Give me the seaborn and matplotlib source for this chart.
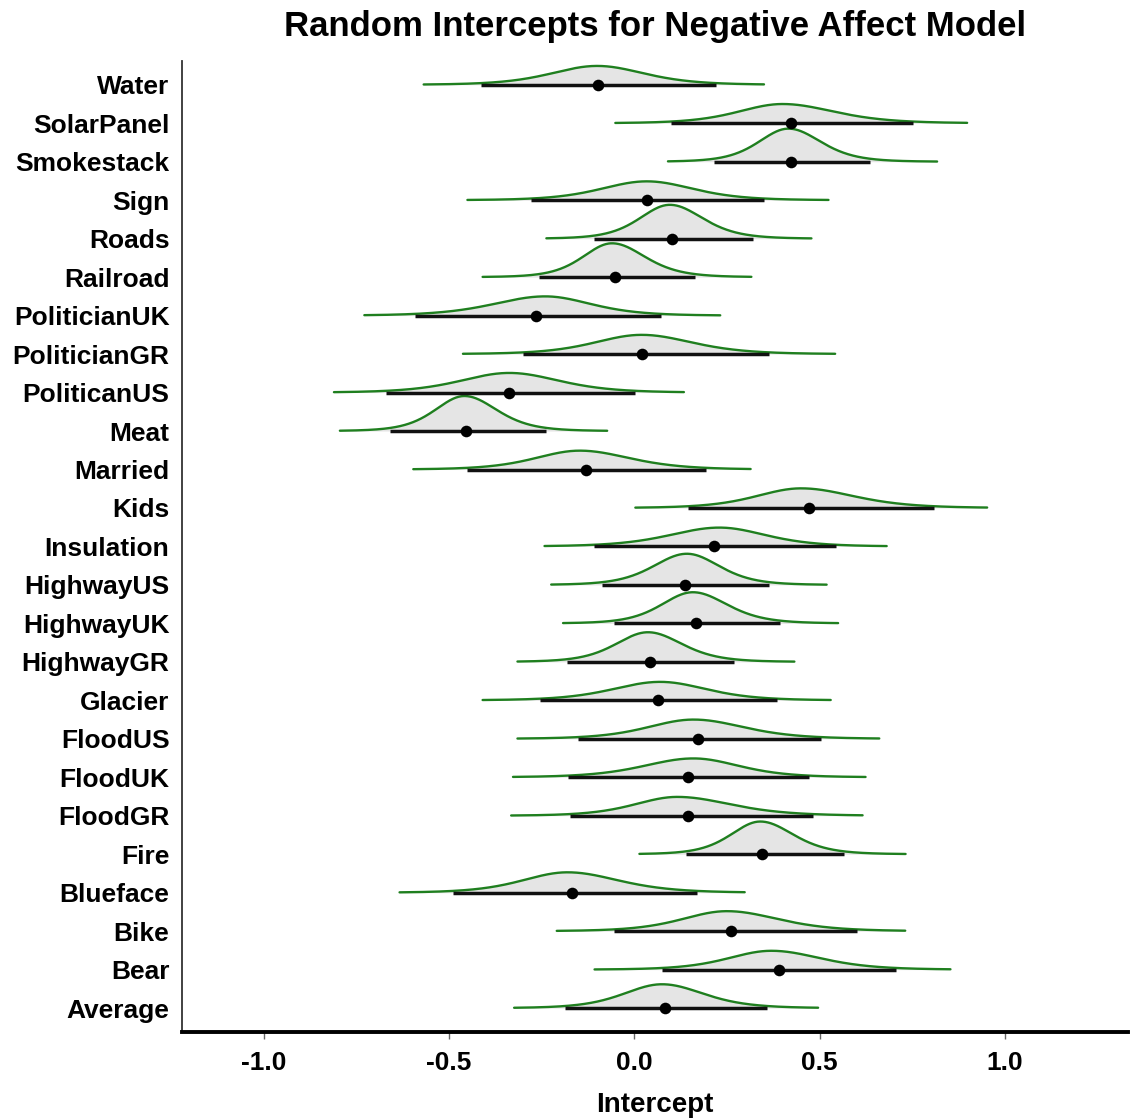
import numpy as np
import pandas as pd
import matplotlib
matplotlib.use("Agg")
import matplotlib.pyplot as plt
import seaborn as sns

categories = ["Water", "SolarPanel", "Smokestack", "Sign", "Roads", "Railroad",
              "PoliticianUK", "PoliticianGR", "PoliticanUS", "Meat", "Married",
              "Kids", "Insulation", "HighwayUS", "HighwayUK", "HighwayGR",
              "Glacier", "FloodUS", "FloodUK", "FloodGR", "Fire", "Blueface",
              "Bike", "Bear", "Average"]
point = [-0.097, 0.423, 0.422, 0.034, 0.103, -0.051, -0.266, 0.022, -0.337, -0.455,
         -0.129, 0.471, 0.214, 0.137, 0.167, 0.042, 0.063, 0.173, 0.145, 0.145,
         0.345, -0.168, 0.260, 0.391, 0.083]
lower = [-0.413, 0.099, 0.214, -0.278, -0.109, -0.258, -0.592, -0.300, -0.669, -0.658,
         -0.450, 0.145, -0.109, -0.086, -0.055, -0.182, -0.255, -0.152, -0.179, -0.174,
         0.140, -0.488, -0.055, 0.075, -0.186]
upper = [0.220, 0.752, 0.637, 0.350, 0.321, 0.165, 0.072, 0.364, 0.003, -0.237,
         0.193, 0.809, 0.545, 0.364, 0.393, 0.270, 0.386, 0.503, 0.471, 0.481,
         0.565, 0.168, 0.600, 0.706, 0.358]
tail_lo = [-0.568, -0.051, 0.091, -0.450, -0.237, -0.409, -0.728, -0.462, -0.810, -0.794,
           -0.596, 0.003, -0.242, -0.224, -0.192, -0.315, -0.409, -0.315, -0.327, -0.332,
           0.014, -0.633, -0.209, -0.107, -0.324]
tail_hi = [0.350, 0.898, 0.817, 0.524, 0.478, 0.316, 0.232, 0.542, 0.134, -0.073,
           0.314, 0.952, 0.681, 0.519, 0.550, 0.432, 0.530, 0.661, 0.624, 0.616,
           0.732, 0.298, 0.731, 0.853, 0.496]
mode = [-0.100, 0.400, 0.416, 0.034, 0.096, -0.060, -0.240, 0.020, -0.337, -0.458,
        -0.147, 0.450, 0.230, 0.142, 0.158, 0.037, 0.070, 0.160, 0.160, 0.116,
        0.340, -0.180, 0.250, 0.370, 0.075]
peak = [0.49, 0.50, 0.86, 0.49, 0.88, 0.88, 0.50, 0.50, 0.51, 0.91,
        0.49, 0.51, 0.49, 0.81, 0.81, 0.77, 0.48, 0.50, 0.49, 0.49,
        0.85, 0.53, 0.52, 0.49, 0.62]

sns.set_theme(style="ticks")
plt.rcParams['font.family'] = ['Liberation Sans', 'DejaVu Sans']
plt.rcParams['font.weight'] = 'bold'
plt.rcParams['text.color'] = 'black'
plt.rcParams['axes.labelcolor'] = 'black'
plt.rcParams['xtick.labelcolor'] = 'black'
plt.rcParams['ytick.labelcolor'] = 'black'

fig = plt.figure(figsize=(11.33, 11.2), dpi=100)
ax = fig.add_axes([0.1606, 0.0786, 0.835, 0.867])

n = len(categories)
df = pd.DataFrame({"cat": categories, "point": point, "lower": lower, "upper": upper,
                   "tlo": tail_lo, "thi": tail_hi, "mode": mode, "peak": peak})
df["pos"] = np.arange(n)[::-1]

green = "#1f7f1f"
DF_T = 6.0
Q = 2.447
for i, r in df.iterrows():
    base = r["pos"]
    x = np.linspace(r["tlo"], r["thi"], 400)
    sl = (r["mode"] - r["lower"]) / Q
    sr = (r["upper"] - r["mode"]) / Q
    s = np.where(x < r["mode"], sl, sr)
    z = (x - r["mode"]) / s
    dens = (1 + z ** 2 / DF_T) ** (-(DF_T + 1) / 2)
    y = base + r["peak"] * dens
    ax.fill_between(x, base, y, color="#e5e5e5", lw=0, zorder=2 + i * 0.01)
    sns.lineplot(x=x, y=y, ax=ax, color=green, lw=1.7, sort=False, zorder=3 + i * 0.01)

ax.hlines(df["pos"], df["lower"], df["upper"], color="#111111", lw=2.5, zorder=4)
sns.scatterplot(data=df, x="point", y="pos", ax=ax, color="black", s=70,
                edgecolor="black", linewidth=0, zorder=5)

ax.set_xlim(-1.22, 1.332)
ax.set_ylim(-0.62, n - 1 + 0.62)
ax.set_yticks(df["pos"])
ax.set_yticklabels(df["cat"], fontsize=19, fontweight="bold", color="black")
ax.set_xticks([-1.0, -0.5, 0.0, 0.5, 1.0])
ax.set_xticklabels(["-1.0", "-0.5", "0.0", "0.5", "1.0"], fontsize=19,
                   fontweight="bold", color="black")
ax.tick_params(axis="y", length=0, pad=9)
ax.tick_params(axis="x", length=5, width=1, color="#666666", pad=9)
for sp in ["top", "right"]:
    ax.spines[sp].set_visible(False)
ax.spines["left"].set_linewidth(1.3)
ax.spines["left"].set_color("#333333")
ax.spines["bottom"].set_linewidth(2.8)
ax.spines["bottom"].set_color("black")
ax.set_xlabel("Intercept", fontsize=20, fontweight="bold", labelpad=12, color="black")
ax.set_ylabel("")
ax.set_title("Random Intercepts for Negative Affect Model", fontsize=25,
             fontweight="bold", pad=18, color="black")

fig.savefig("out.png", dpi=100)
